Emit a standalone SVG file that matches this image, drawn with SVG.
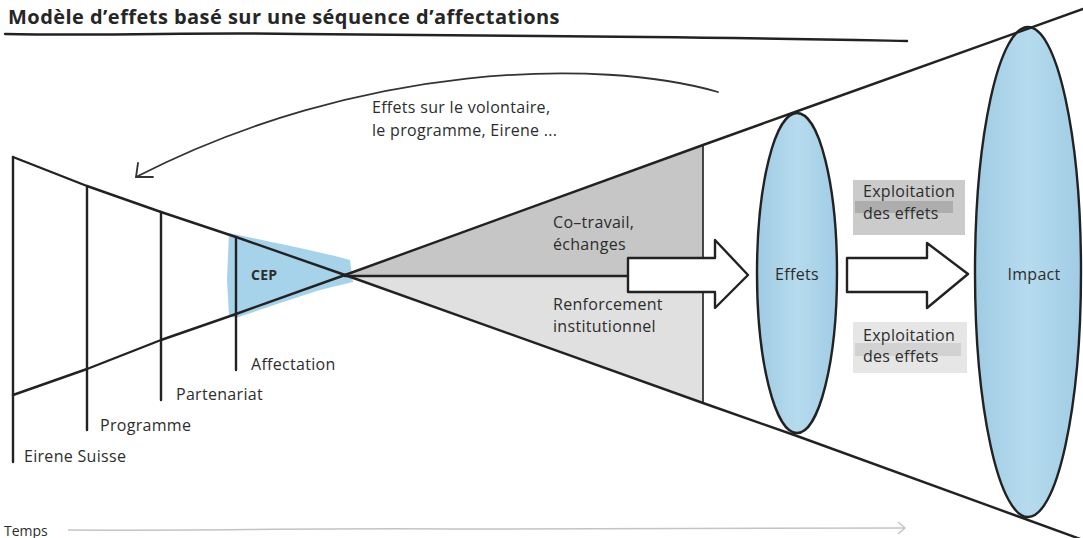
<svg xmlns="http://www.w3.org/2000/svg" width="1083" height="538" viewBox="0 0 1083 538">
<defs>
<style>
.ln{fill:none;stroke:#222;stroke-width:2.4;stroke-linecap:round;stroke-linejoin:round}
.thin{fill:none;stroke:#333;stroke-width:1.8;stroke-linecap:round;stroke-linejoin:round}
.t{font-family:"Open Sans","Noto Sans","DejaVu Sans",sans-serif;font-size:16px;letter-spacing:0.3px;fill:#2d2d2d}
.b{font-weight:bold}
.c{text-anchor:middle}
.blue{fill:url(#bg)}
.harrow{fill:#fff;stroke:#222;stroke-width:2.4;stroke-linejoin:round}
</style>
<linearGradient id="bg" x1="0" y1="0" x2="1" y2="0">
<stop offset="0" stop-color="#9fcbe3"/>
<stop offset="0.5" stop-color="#b6dbee"/>
<stop offset="1" stop-color="#a0cce4"/>
</linearGradient>
</defs>
<rect width="1083" height="538" fill="#fff"/>

<g id="title">
<text class="t b" x="8" y="24" style="font-size:20px;letter-spacing:0.45px;fill:#262626">Modèle d’effets basé sur une séquence d’affectations</text>
<path class="ln" d="M5,34 C120,36 200,32 300,34 C420,35 480,35 540,36 C700,37 800,39 907,41"/>
</g>

<g id="cep-fill">
<polygon fill="#a6d2ea" points="229,233 262,240 300,248 335,256 350,260 353,282 320,290 280,303 236,318 229,316 227,280"/>
</g>

<g id="right-cone">
<polygon fill="#c6c6c6" points="345,275 703,145 703,276"/>
<polygon fill="#e0e0e0" points="345,275 703,276 703,403"/>
<path class="ln" d="M345,276 L630,276"/>
<path class="thin" d="M703,145 L703,403"/>
</g>

<g id="left-cone">
<path class="ln" d="M13,157 L87,186 L161,212 L236,237 L345,275"/>
<path class="ln" d="M13,395 L87,369 L161,340 L236,314 L345,275"/>
<path class="ln" d="M13,157 L13,462"/>
<path class="ln" d="M87,186 L87,430"/>
<path class="ln" d="M161,212 L161,400"/>
<path class="ln" d="M236,237 L236,370"/>
</g>

<g id="effets">
<ellipse class="blue" cx="797" cy="273" rx="40" ry="160"/>
</g>
<g id="impact">
<ellipse class="blue" cx="1028" cy="272" rx="53" ry="245"/>
</g>

<g id="cone-lines">
<path class="ln" d="M345,275 L703,145 L795,112 L1083,9"/>
<path class="ln" d="M345,275 L703,403 L797,436 L1083,540"/>
</g>

<g id="effets-outline">
<ellipse class="ln" cx="797" cy="273" rx="40" ry="160"/>
<text class="t c" x="797" y="280">Effets</text>
</g>
<g id="impact-outline">
<ellipse class="ln" cx="1028" cy="272" rx="53" ry="245"/>
<text class="t c" x="1034" y="280">Impact</text>
</g>

<g id="cep">
<text class="t b" x="251" y="280" style="font-size:14px">CEP</text>
</g>

<g id="labels">
<text class="t" x="251" y="370">Affectation</text>
<text class="t" x="176" y="400">Partenariat</text>
<text class="t" x="100" y="431">Programme</text>
<text class="t" x="24" y="462">Eirene Suisse</text>
<text class="t" x="553" y="228">Co–travail,</text>
<text class="t" x="553" y="250">échanges</text>
<text class="t" x="553" y="310">Renforcement</text>
<text class="t" x="553" y="332">institutionnel</text>
<text class="t" x="372" y="113">Effets sur le volontaire,</text>
<text class="t" x="372" y="136">le programme, Eirene ...</text>
</g>

<g id="exploitation-top">
<rect x="853" y="180" width="112" height="55" fill="#cbcbcb"/>
<rect x="855" y="201" width="98" height="12" fill="#adadad"/>
<text class="t" x="863" y="197">Exploitation</text>
<text class="t" x="863" y="219">des effets</text>
</g>
<g id="exploitation-bottom">
<rect x="853" y="322" width="114" height="51" fill="#e6e6e6"/>
<rect x="855" y="343" width="106" height="13" fill="#d2d2d2"/>
<text class="t" x="863" y="341">Exploitation</text>
<text class="t" x="863" y="362">des effets</text>
</g>

<g id="connectors">
<path class="thin" d="M718,92 C600,58 360,62 136,177"/>
<path class="thin" d="M138,163 L136,177 L153,177"/>
<path class="harrow" d="M628,258 L715,258 L715,240 L748,275 L715,308 L715,292 L628,292 Z"/>
<path class="harrow" d="M847,258 L927,258 L927,243 L968,274 L927,308 L927,292 L847,292 Z"/>
<path fill="none" stroke="#c4c4c4" stroke-width="1.5" d="M68,530 C200,531 300,528 450,529 C600,530 750,528 905,528"/>
<path fill="none" stroke="#c4c4c4" stroke-width="1.5" d="M898,522 L905,528 L898,534"/>
</g>

<g id="temps">
<text class="t" x="4" y="536" style="font-size:14px;letter-spacing:0">Temps</text>
</g>
</svg>
